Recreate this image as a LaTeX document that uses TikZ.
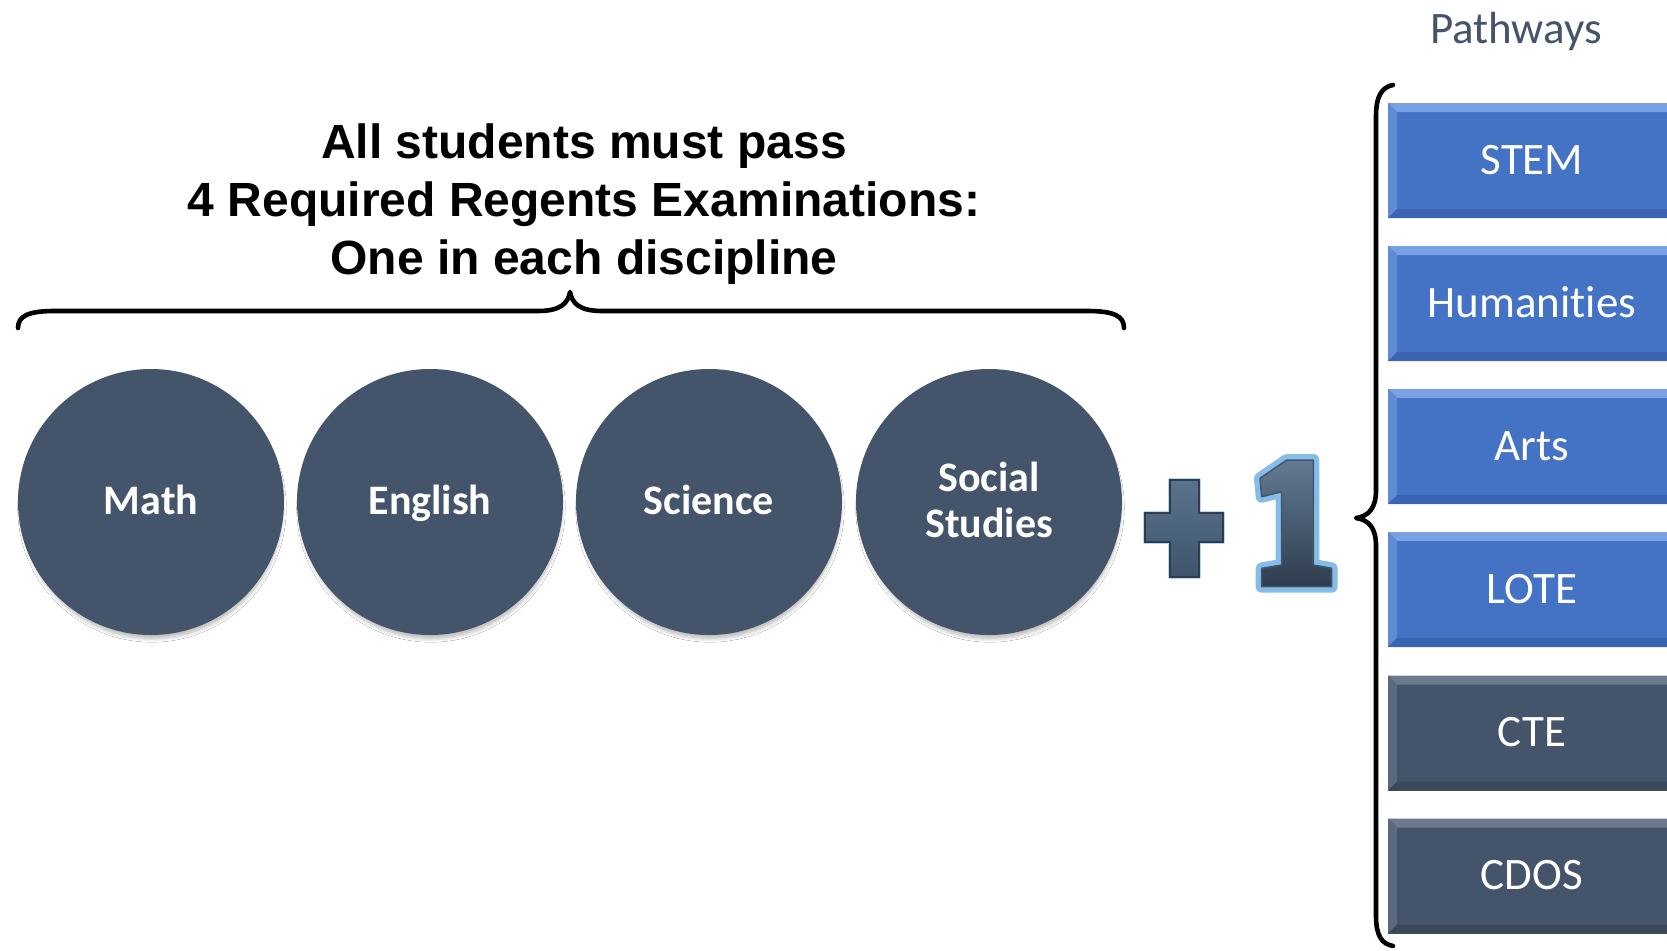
\documentclass[tikz,border=0pt]{standalone}
\usepackage{fontspec}
\setmainfont{Carlito}[Ligatures=NoCommon,RawFeature={-liga;-clig;-calt}]
\newfontfamily\arialf{Liberation Sans}
\usetikzlibrary{shadows.blur}
\definecolor{slate}{HTML}{44546A}
\definecolor{slatelt}{HTML}{6C7A8E}
\definecolor{slatedk}{HTML}{3A4859}
\definecolor{bluebox}{HTML}{4472C4}
\definecolor{bluelt}{HTML}{79A0E2}
\definecolor{bluedk}{HTML}{3A64B0}
\definecolor{glow}{HTML}{86BDE8}
\definecolor{plusfill}{HTML}{48637F}
\definecolor{plusline}{HTML}{2E3D4E}
\tikzset{
  circ/.style={circle,fill=slate,minimum size=266pt,inner sep=0pt,
    blur shadow={shadow xshift=1pt,shadow yshift=-6pt,shadow blur steps=10,shadow opacity=30,shadow blur radius=4pt,shadow scale=0.98}},
  ctext/.style={text=white,font=\bfseries\fontsize{42}{46}\selectfont,align=center},
  btext/.style={text=white,font=\fontsize{45}{50}\selectfont,anchor=base},
  ttext/.style={font=\arialf\bfseries\fontsize{48}{58}\selectfont,anchor=base},
  bracepath/.style={line width=4.6pt,line cap=round,line join=round,black},
}
\newcommand{\pwbox}[4]{% #1 name, #2 top y, #3 kind (b/s), #4 text
  \ifx b#3
    \def\mc{bluebox}\def\lc{bluelt}\def\dc{bluedk}
  \else
    \def\mc{slate}\def\lc{slatelt}\def\dc{slatedk}
  \fi
  \fill[\mc] (1388,#2) rectangle (1667,#2+115);
  \fill[\lc] (1388,#2) -- (1667,#2) -- (1667,#2+9) -- (1397,#2+9) -- cycle;
  \fill[\lc!55!\mc] (1388,#2) -- (1397,#2+9) -- (1397,#2+106) -- (1388,#2+115) -- cycle;
  \fill[\dc] (1388,#2+115) -- (1397,#2+106) -- (1667,#2+106) -- (1667,#2+115) -- cycle;
  \node[btext] (#1) at (1532,#2+71) {#4};
}
\begin{document}
\begin{tikzpicture}[x=1pt,y=-1pt]
\useasboundingbox (0,0) rectangle (1667,950);
\fill[white] (0,0) rectangle (1667,950);

% title
\node[ttext] (t1) at (584,158) {All students must pass};
\node[ttext] (t2) at (584,216) {4 Required Regents Examinations:};
\node[ttext] (t3) at (584,274) {One in each discipline};

% top brace
\draw[bracepath] (18,328) .. controls (18,316) and (28,311) .. (55,311) -- (538,311)
  .. controls (561,311) and (568,303) .. (570,292)
  .. controls (572,303) and (579,311) .. (602,311) -- (1087,311)
  .. controls (1114,311) and (1124,316) .. (1124,328);

% circles
\node[circ] (math) at (151,502) {};
\node[circ] (eng) at (430,502) {};
\node[circ] (sci) at (709,502) {};
\node[circ] (soc) at (989,502) {};
\node[ctext,anchor=base] (mathT) at (151,514) {Math};
\node[ctext,anchor=base] (engT) at (430,514) {English};
\node[ctext,anchor=base] (sciT) at (709,514) {Science};
\node[ctext,anchor=base] (socT1) at (989,491) {Social};
\node[ctext,anchor=base] (socT2) at (989,537) {Studies};

% plus
\draw[glow!60!white,line width=4pt,line join=round] (1169.5,480) -- (1198.5,480) -- (1198.5,513) -- (1223,513) -- (1223,542) -- (1198.5,542) -- (1198.5,577) -- (1169.5,577) -- (1169.5,542) -- (1145,542) -- (1145,513) -- (1169.5,513) -- cycle;
\draw[plusline,line width=2pt,top color=plusfill!90!white,bottom color=plusfill!85!black,line join=miter] (1169.5,480) -- (1198.5,480) -- (1198.5,513) -- (1223,513) -- (1223,542) -- (1198.5,542) -- (1198.5,577) -- (1169.5,577) -- (1169.5,542) -- (1145,542) -- (1145,513) -- (1169.5,513) -- cycle;

% one
\draw[glow,line width=12pt,line join=round] (1286.7,460) -- (1313.3,460) -- (1313.3,565) -- (1331.7,568.3) -- (1331.7,586.7) -- (1261.7,586.7) -- (1261.7,568.3) -- (1281.7,565) -- (1281.7,491.7) -- (1261.7,496.7) -- (1260,478.3) -- cycle;
\draw[plusline!80!glow,line width=1.5pt,top color=plusfill!85!white,bottom color=plusline,line join=round] (1286.7,460) -- (1313.3,460) -- (1313.3,565) -- (1331.7,568.3) -- (1331.7,586.7) -- (1261.7,586.7) -- (1261.7,568.3) -- (1281.7,565) -- (1281.7,491.7) -- (1261.7,496.7) -- (1260,478.3) -- cycle;

% right brace
\draw[bracepath] (1393,85) .. controls (1382,87) and (1376,96) .. (1376,116) -- (1376,490)
  .. controls (1376,508) and (1369,516) .. (1356,518)
  .. controls (1369,520) and (1376,528) .. (1376,546) -- (1376,916)
  .. controls (1376,936) and (1382,944) .. (1393,946);

% pathways
\node[text=slate,font=\fontsize{45}{50}\selectfont,anchor=base] (pw) at (1516,44) {Pathways};
\pwbox{stem}{103}{b}{STEM}
\pwbox{hum}{246}{b}{Humanit\kern0pt ies}
\pwbox{arts}{389}{b}{Arts}
\pwbox{lote}{532}{b}{LOTE}
\pwbox{cte}{675.5}{s}{CTE}
\pwbox{cdos}{818.5}{s}{CDOS}
\end{tikzpicture}
\end{document}
